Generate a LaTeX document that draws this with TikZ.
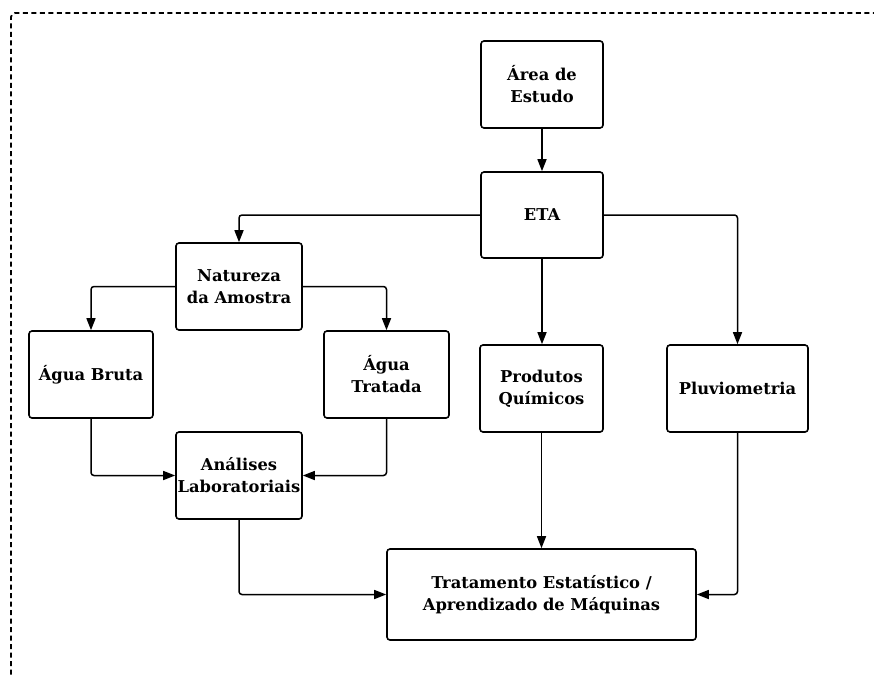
\documentclass[tikz,border=0pt]{standalone}
\usepackage{fontspec}
\setmainfont{DejaVu Serif}
\usetikzlibrary{arrows.meta}
\begin{document}
\begin{tikzpicture}[x=1pt,y=-1pt,
  box/.style={draw, line width=1.6pt, rounded corners=3pt, align=center, font=\bfseries\fontsize{16.3}{22}\selectfont, inner sep=0pt},
  conn/.style={line width=1.5pt, -{Triangle[length=12pt,width=9pt]}}]
\useasboundingbox (0,0) rectangle (874,674);
\begin{scope}
\clip (0,0) rectangle (874,674);
\draw[line width=1.8pt, dash pattern=on 5pt off 3.5pt, rounded corners=4pt] (11,700) -- (11,13) -- (900,13);
\end{scope}
\node[box, minimum width=122pt, minimum height=87pt] (area) at (542,84.5) {Área de\\Estudo};
\node[box, minimum width=122pt, minimum height=86pt] (eta) at (542,215) {ETA};
\node[box, minimum width=126pt, minimum height=87pt] (nat) at (239,286.5) {Natureza\\da Amostra};
\node[box, minimum width=124pt, minimum height=87pt] (bruta) at (91,374.5) {Água Bruta};
\node[box, minimum width=125pt, minimum height=87pt] (trat) at (386.5,374.5) {Água\\Tratada};
\node[box, minimum width=123pt, minimum height=87pt] (prod) at (541.5,388.5) {Produtos\\Químicos};
\node[box, minimum width=141pt, minimum height=87pt] (pluv) at (737.5,388.5) {Pluviometria};
\node[box, minimum width=126pt, minimum height=87pt] (anal) at (239,475.5) {Análises\\Laboratoriais};
\node[box, minimum width=309pt, minimum height=91pt] (trt) at (541.5,594.5) {Tratamento Estatístico /\\Aprendizado de Máquinas};
\draw[conn] (area) -- (eta);
\draw[conn, rounded corners=3pt] (eta.west) -| (nat.north);
\draw[conn, rounded corners=3pt] (eta.east) -| (pluv.north);
\draw[conn] (eta.south) -- (eta.south |- prod.north);
\draw[conn, rounded corners=3pt] (nat.west) -| (bruta.north);
\draw[conn, rounded corners=3pt] (nat.east) -| (trat.north);
\draw[conn, rounded corners=3pt] (bruta.south) |- (anal.west);
\draw[conn, rounded corners=3pt] (trat.south) |- (anal.east);
\draw[conn, rounded corners=3pt] (anal.south) |- (trt.west);
\draw[conn] (prod.south) -- (prod.south |- trt.north);
\draw[conn, rounded corners=3pt] (pluv.south) |- (trt.east);
\end{tikzpicture}
\end{document}
